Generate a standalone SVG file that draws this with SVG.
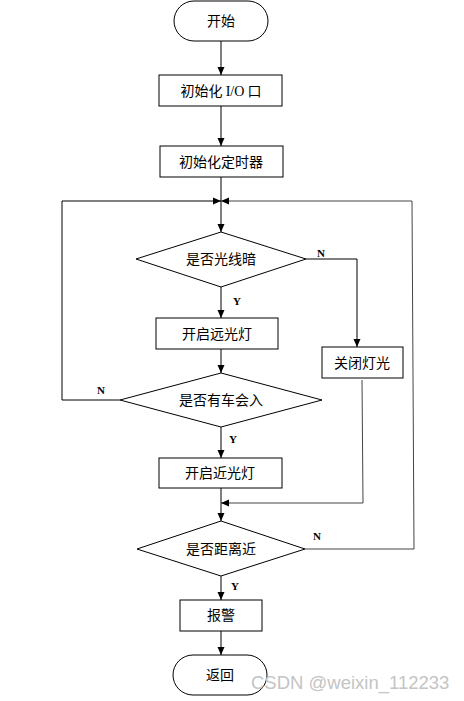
<svg xmlns="http://www.w3.org/2000/svg" width="464" height="701" viewBox="0 0 464 701">
<style>
.shape{fill:#fff;stroke:#000;stroke-width:1}
.t{font-family:"Noto Sans CJK SC","Noto Sans",sans-serif;font-size:14px;fill:#000;text-anchor:middle}
.yn{font-family:"Liberation Serif",serif;font-size:11px;font-weight:bold;fill:#000}
.c{fill:none;stroke:#000;stroke-width:1}
.g{fill:none;stroke:#444;stroke-width:1}
.wm{font-family:"Liberation Sans",sans-serif;font-size:18.5px;fill:#c4c4c4}
</style>
<defs>
<marker id="a" markerWidth="8" markerHeight="8" refX="8" refY="4" orient="auto" markerUnits="userSpaceOnUse">
<path d="M0,0.5 L8,4 L0,7.5 Z" fill="#000"/>
</marker>
</defs>
<rect width="464" height="701" fill="#fff"/>
<g id="connectors">
<line class="c" x1="221" y1="41" x2="221" y2="75" marker-end="url(#a)"/>
<line class="c" x1="221" y1="106" x2="221" y2="146" marker-end="url(#a)"/>
<line class="c" x1="221" y1="177" x2="221" y2="232" marker-end="url(#a)"/>
<line class="c" x1="221" y1="287" x2="221" y2="318" marker-end="url(#a)"/>
<line class="c" x1="221" y1="349" x2="221" y2="373" marker-end="url(#a)"/>
<line class="c" x1="221" y1="427" x2="221" y2="458" marker-end="url(#a)"/>
<line class="c" x1="221" y1="488" x2="221" y2="521" marker-end="url(#a)"/>
<line class="c" x1="221" y1="576" x2="221" y2="600" marker-end="url(#a)"/>
<line class="c" x1="221" y1="631" x2="221" y2="655" marker-end="url(#a)"/>
<polyline class="c" points="120,400 62,400 62,201 221,201" marker-end="url(#a)"/>
<polyline class="c" points="306,259 357,259 357,347" marker-end="url(#a)"/>
<polyline class="g" points="362,380 363,503 221,503" marker-end="url(#a)"/>
<polyline class="g" points="305,549 414,549 412,201 221,201" marker-end="url(#a)"/>
</g>
<g id="start"><rect class="shape" x="174" y="1" width="94" height="40" rx="20"/><text class="t" x="221" y="26">开始</text></g>
<g id="init-io"><rect class="shape" x="159" y="75" width="123" height="31"/><text class="t" x="221" y="96">初始化 <tspan font-family="Liberation Serif,serif">I/O</tspan> 口</text></g>
<g id="init-timer"><rect class="shape" x="160" y="146" width="123" height="31"/><text class="t" x="221" y="167">初始化定时器</text></g>
<g id="dark"><polygon class="shape" points="221,232 306,259 221,287 136,259"/><text class="t" x="221" y="264">是否光线暗</text></g>
<g id="high-beam"><rect class="shape" x="156" y="318" width="122" height="31"/><text class="t" x="217" y="339">开启远光灯</text></g>
<g id="lights-off"><rect class="shape" x="322" y="347" width="81" height="31"/><text class="t" x="362" y="368">关闭灯光</text></g>
<g id="car"><polygon class="shape" points="221,373 322,400 221,427 120,400"/><text class="t" x="221" y="405">是否有车会入</text></g>
<g id="low-beam"><rect class="shape" x="159" y="458" width="123" height="30"/><text class="t" x="220" y="478">开启近光灯</text></g>
<g id="near"><polygon class="shape" points="221,521 305,549 221,576 137,549"/><text class="t" x="221" y="554">是否距离近</text></g>
<g id="alarm"><rect class="shape" x="180" y="600" width="82" height="31"/><text class="t" x="221" y="620">报警</text></g>
<g id="return"><rect class="shape" x="173" y="655" width="94" height="40" rx="20"/><text class="t" x="220" y="680">返回</text></g>
<g id="labels">
<text class="yn" x="317" y="257">N</text>
<text class="yn" x="233" y="305">Y</text>
<text class="yn" x="97" y="394">N</text>
<text class="yn" x="229" y="443">Y</text>
<text class="yn" x="313" y="540">N</text>
<text class="yn" x="231" y="590">Y</text>
</g>
<text class="wm" x="251" y="689">CSDN @weixin_112233</text>
</svg>
